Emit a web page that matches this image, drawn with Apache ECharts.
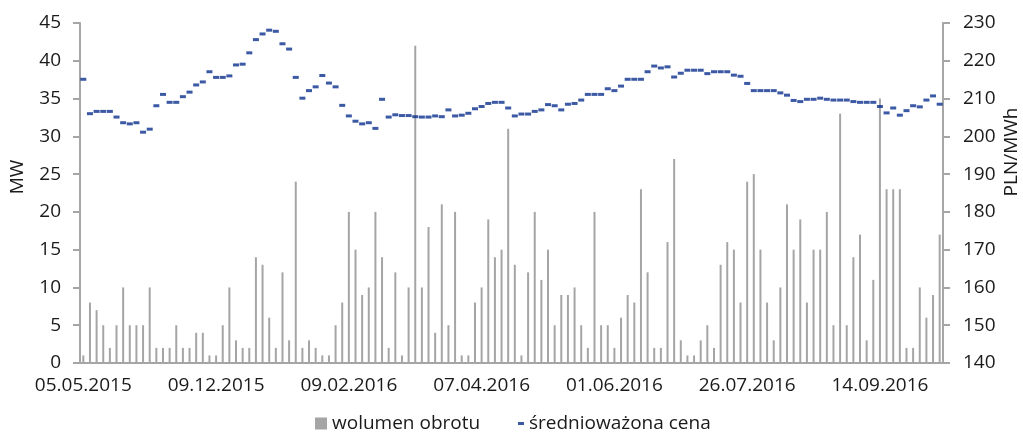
<!DOCTYPE html>
<html>
<head>
<meta charset="utf-8">
<script src="https://cdn.jsdelivr.net/npm/echarts@6/dist/echarts.min.js"></script>
<style>
  html, body { margin: 0; padding: 0; background: #ffffff; }
  #chart { width: 1023px; height: 446px; }
</style>
</head>
<body>
<div id="chart"></div>
<script>
// Date labels shown every 20 sessions on the x axis
const tickLabels = ['05.05.2015', '09.12.2015', '09.02.2016', '07.04.2016', '01.06.2016', '26.07.2016', '14.09.2016'];

// Trading volume per session, MW
const volume = [
  1, 8, 7, 5, 2, 5, 10, 5, 5, 5,
  10, 2, 2, 2, 5, 2, 2, 4, 4, 1,
  1, 5, 10, 3, 2, 2, 14, 13, 6, 2,
  12, 3, 24, 2, 3, 2, 1, 1, 5, 8,
  20, 15, 9, 10, 20, 14, 2, 12, 1, 10,
  42, 10, 18, 4, 21, 5, 20, 1, 1, 8,
  10, 19, 14, 15, 31, 13, 1, 12, 20, 11,
  15, 5, 9, 9, 10, 5, 2, 20, 5, 5,
  2, 6, 9, 8, 23, 12, 2, 2, 16, 27,
  3, 1, 1, 3, 5, 2, 13, 16, 15, 8,
  24, 25, 15, 8, 3, 10, 21, 15, 19, 8,
  15, 15, 20, 5, 33, 5, 14, 17, 3, 11,
  35, 23, 23, 23, 2, 2, 10, 6, 9, 17
];

// Volume-weighted average price per session, PLN/MWh
const price = [
  215.1, 206.0, 206.6, 206.6, 206.6, 205.1, 203.6, 203.3, 203.6, 201.1,
  201.9, 208.1, 211.1, 209.0, 209.0, 210.5, 211.7, 213.6, 214.4, 217.1,
  215.6, 215.6, 216.0, 218.9, 219.1, 222.1, 225.6, 227.1, 228.1, 227.8,
  224.5, 223.1, 215.6, 210.1, 212.1, 213.1, 216.1, 214.1, 213.1, 208.2,
  205.4, 204.0, 203.3, 203.6, 202.1, 209.8, 205.1, 205.7, 205.5, 205.5,
  205.2, 205.1, 205.1, 205.4, 205.2, 207.0, 205.4, 205.6, 206.1, 207.3,
  207.9, 208.7, 209.0, 209.0, 207.5, 205.4, 205.9, 205.9, 206.6, 207.0,
  208.4, 208.1, 207.0, 208.5, 208.7, 209.6, 211.1, 211.1, 211.1, 212.6,
  212.1, 213.3, 215.1, 215.1, 215.1, 217.1, 218.6, 218.1, 218.4, 215.7,
  216.7, 217.5, 217.5, 217.5, 216.6, 217.1, 217.1, 217.1, 216.2, 215.9,
  214.0, 212.1, 212.1, 212.1, 212.1, 211.5, 210.9, 209.5, 209.2, 209.8,
  209.8, 210.1, 209.8, 209.6, 209.6, 209.6, 209.2, 209.0, 209.0, 209.0,
  207.9, 206.2, 207.5, 205.6, 206.8, 208.1, 207.8, 209.6, 210.7, 208.5
];

const LABEL_STEP = 20;
// One category per session; only every 20th carries a date label
const categories = volume.map((_, i) =>
  i % LABEL_STEP === 0 ? tickLabels[i / LABEL_STEP] : 's' + i);

const FONT = 'Open Sans';
const TEXT = '#1a1a1a';
const AXIS = '#a6a6a6';
const BAR = '#a5a5a5';
const DOT = '#0b2f8c';

const chart = echarts.init(document.getElementById('chart'), null, { renderer: 'canvas' });

chart.setOption({
  animation: false,
  backgroundColor: '#ffffff',
  textStyle: { fontFamily: FONT, color: TEXT },
  grid: { left: 80, right: 80, top: 23, bottom: 83, containLabel: false },
  legend: [
    {
      data: ['wolumen obrotu'],
      left: 315, top: 414,
      itemWidth: 12, itemHeight: 12, icon: 'rect', padding: 0,
      textStyle: { fontFamily: FONT, fontSize: 19, color: TEXT }
    },
    {
      data: ['średnioważona cena'],
      left: 518, top: 414,
      itemWidth: 6, itemHeight: 3, icon: 'rect', padding: 0,
      textStyle: { fontFamily: FONT, fontSize: 19, color: TEXT }
    }
  ],
  xAxis: {
    type: 'category',
    data: categories,
    boundaryGap: true,
    axisLine: { lineStyle: { color: AXIS, width: 2 } },
    axisTick: { interval: LABEL_STEP - 1, length: 7, lineStyle: { color: AXIS, width: 2 } },
    axisLabel: {
      interval: LABEL_STEP - 1, margin: 13,
      fontFamily: FONT, fontSize: 19, color: TEXT
    },
    splitLine: { show: false }
  },
  yAxis: [
    {
      type: 'value', min: 0, max: 45, interval: 5, position: 'left',
      axisLine: { show: true, lineStyle: { color: AXIS, width: 2 } },
      axisTick: { show: true, length: 7, lineStyle: { color: AXIS, width: 2 } },
      axisLabel: { margin: 19, fontFamily: FONT, fontSize: 19, color: TEXT },
      splitLine: { show: false }
    },
    {
      type: 'value', min: 140, max: 230, interval: 10, position: 'right',
      axisLine: { show: true, lineStyle: { color: AXIS, width: 2 } },
      axisTick: { show: true, length: 7, lineStyle: { color: AXIS, width: 2 } },
      axisLabel: { margin: 20, fontFamily: FONT, fontSize: 19, color: TEXT },
      splitLine: { show: false }
    }
  ],
  graphic: [
    {
      type: 'text', x: 18, y: 177, rotation: Math.PI / 2,
      style: { text: 'MW', fontFamily: FONT, fontSize: 19, fill: TEXT, align: 'center', verticalAlign: 'middle' }
    },
    {
      type: 'text', x: 1012, y: 152, rotation: Math.PI / 2,
      style: { text: 'PLN/MWh', fontFamily: FONT, fontSize: 19, fill: TEXT, align: 'center', verticalAlign: 'middle' }
    }
  ],
  series: [
    {
      name: 'wolumen obrotu',
      type: 'bar',
      yAxisIndex: 0,
      data: volume,
      barWidth: 2,
      itemStyle: { color: BAR }
    },
    {
      name: 'średnioważona cena',
      type: 'scatter',
      yAxisIndex: 1,
      data: price,
      symbol: 'rect',
      symbolSize: [6, 3],
      itemStyle: { color: DOT }
    }
  ]
});
</script>
</body>
</html>
